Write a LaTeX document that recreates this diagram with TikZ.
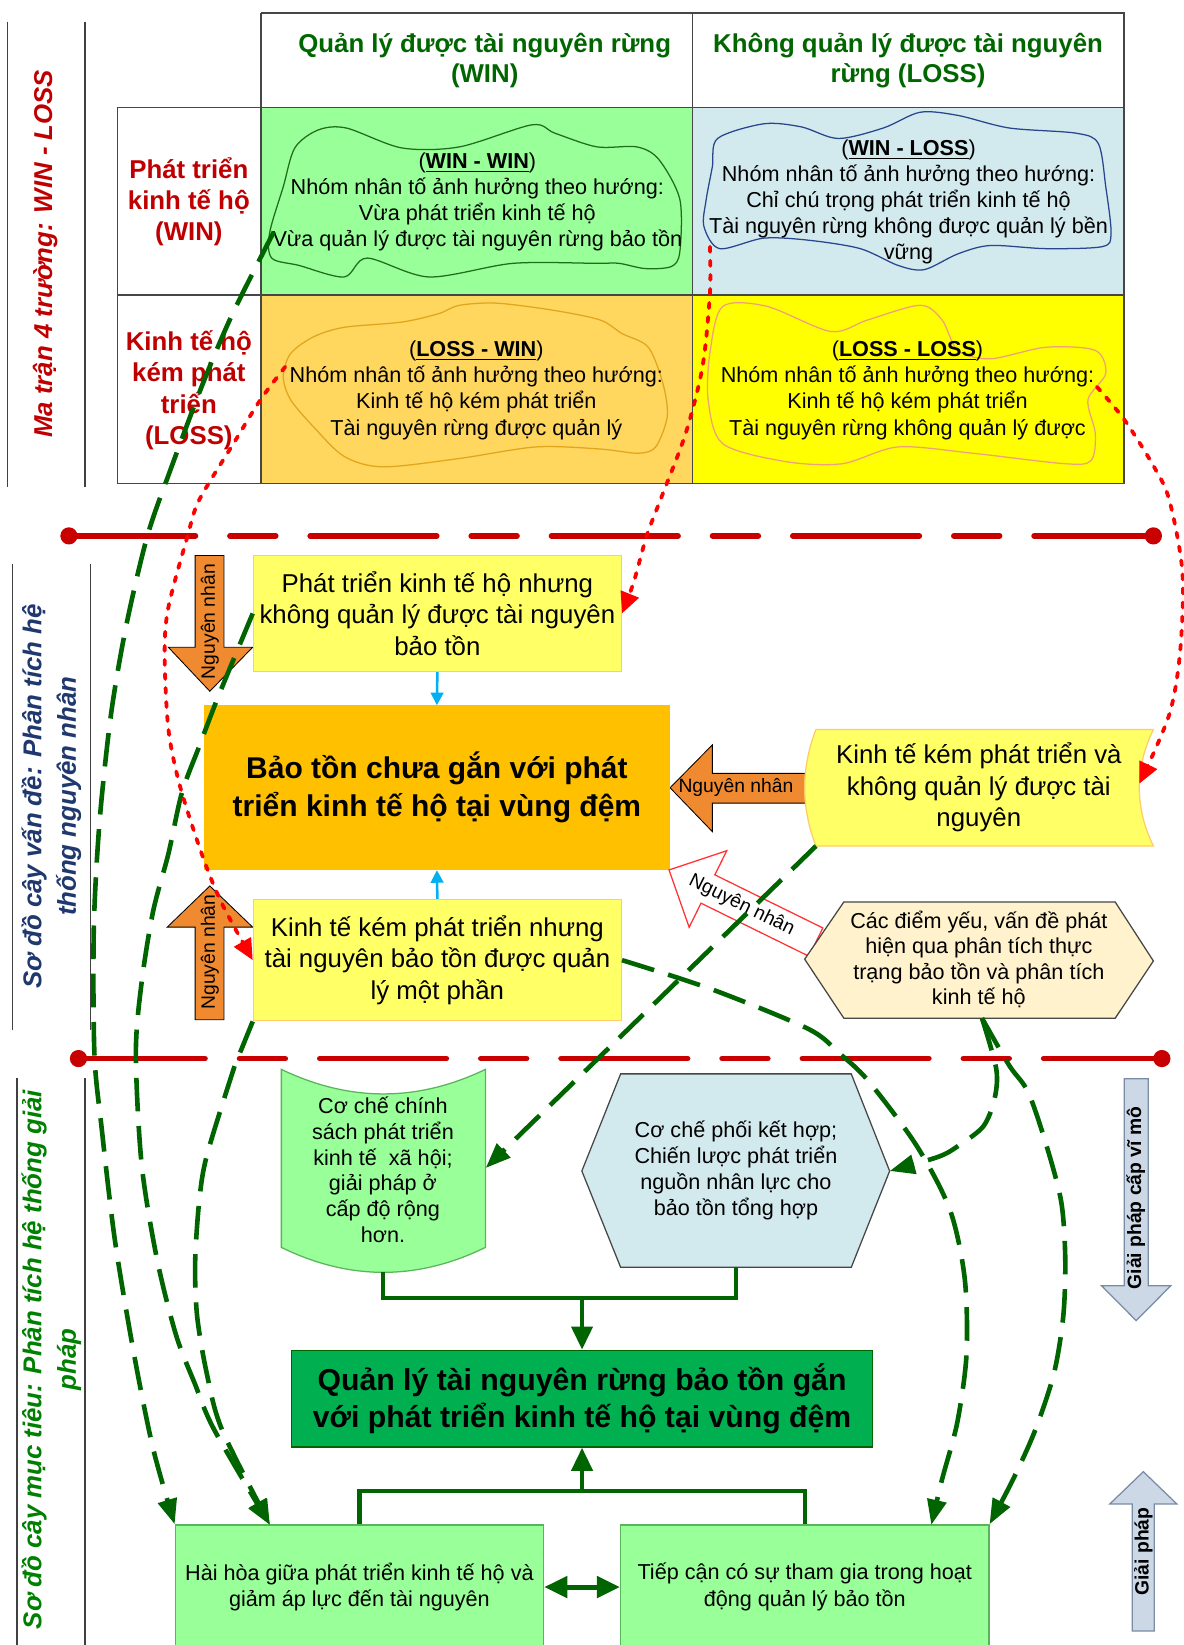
\documentclass[tikz,border=0pt]{standalone}
\usepackage{fontspec}
\setmainfont{Liberation Sans}
\usetikzlibrary{arrows.meta,calc}
\definecolor{dkred}{RGB}{192,0,0}
\definecolor{hdrgreen}{RGB}{0,102,0}
\definecolor{navy}{RGB}{31,56,110}
\definecolor{ttlgreen}{RGB}{0,128,0}
\definecolor{cellgreen}{RGB}{153,255,153}
\definecolor{cellblue}{RGB}{210,233,238}
\definecolor{cellorange}{RGB}{255,214,94}
\definecolor{cellyellow}{RGB}{255,255,0}
\definecolor{ltyellow}{RGB}{255,255,102}
\definecolor{ybord}{RGB}{255,204,102}
\definecolor{mainorange}{RGB}{255,192,0}
\definecolor{arrorange}{RGB}{240,138,48}
\definecolor{skyblue}{RGB}{0,176,240}
\definecolor{cream}{RGB}{255,242,204}
\definecolor{maingreen}{RGB}{0,176,80}
\definecolor{dkgreen}{RGB}{0,100,0}
\definecolor{steel}{RGB}{205,216,230}
\definecolor{steelbd}{RGB}{120,140,165}
\definecolor{blobgreen}{RGB}{30,110,30}
\definecolor{blobblue}{RGB}{40,70,140}
\definecolor{bloborange}{RGB}{225,165,30}
\definecolor{blobsalmon}{RGB}{240,160,120}
\definecolor{gridgray}{RGB}{70,70,70}
\definecolor{redline}{RGB}{200,0,0}
\definecolor{boxgreenbd}{RGB}{90,180,90}
\begin{document}
\begin{tikzpicture}[x=0.5pt,y=-0.5pt,
  hdr/.style={font=\fontsize{12.3}{14.5}\selectfont\bfseries, text=hdrgreen, align=center},
  rowlab/.style={font=\fontsize{12.3}{14.8}\selectfont\bfseries, text=dkred, align=center},
  celltxt/.style={font=\fontsize{10.3}{12.5}\selectfont, align=center},
  smalltxt/.style={font=\fontsize{10.3}{12.3}\selectfont, align=center},
  ttl/.style={font=\fontsize{12.3}{16.5}\selectfont\bfseries\itshape, align=center, rotate=90},
  gridln/.style={draw=gridgray, line width=0.8pt},
  sideln/.style={draw=black!75, line width=0.7pt},
  blob/.style={line width=0.6pt},
  ybox/.style={fill=ltyellow, draw=ybord, line width=0.6pt, inner sep=0pt, align=center, font=\fontsize{12.3}{15}\selectfont},
  mainbox/.style={fill=mainorange, draw=mainorange, inner sep=0pt, align=center, font=\fontsize{14.3}{18}\selectfont\bfseries},
  gmainbox/.style={fill=maingreen, draw=dkgreen, line width=0.6pt, inner sep=0pt, align=center, font=\fontsize{14.4}{18}\selectfont\bfseries},
  lgbox/.style={fill=cellgreen, draw=boxgreenbd, line width=0.6pt, inner sep=0pt, align=center, font=\fontsize{10.3}{12.7}\selectfont},
  orarrow/.style={fill=arrorange},
  nntxt/.style={font=\fontsize{9.2}{11}\selectfont, inner sep=0pt},
  steelarrow/.style={fill=steel, draw=steelbd, line width=0.6pt},
  steeltxt/.style={font=\fontsize{9.2}{11}\selectfont\bfseries, inner sep=0pt},
  sepline/.style={draw=redline, line width=2.7pt, line cap=round, dash pattern=on 60.3pt off 16.45pt on 21.8pt off 16.45pt},
  sepdot/.style={circle, fill=redline, inner sep=0pt, minimum size=8.2pt},
  bluearr/.style={draw=skyblue, line width=1.2pt, -{Triangle[length=6pt,width=6pt]}},
  gdash/.style={draw=dkgreen, line width=2.2pt, dash pattern=on 16pt off 7pt, -{Triangle[length=12pt,width=9pt]}},
  rdot/.style={draw=red, line width=1.8pt, line cap=round, dash pattern=on 2.4pt off 4.3pt, -{Triangle[length=10pt,width=9pt]}},
  gsolid/.style={draw=dkgreen, line width=2pt},
  garrow/.style={draw=dkgreen, line width=2pt, -{Triangle[length=11pt,width=10pt]}},
  gdouble/.style={draw=dkgreen, line width=2.4pt, {Triangle[length=11pt,width=10pt]}-{Triangle[length=11pt,width=10pt]}}
]
\useasboundingbox (0,0) rectangle (1128,1568);
\fill[white] (0,0) rectangle (1128,1568);

% ===== matrix =====
\fill[cellgreen] (249,102.4) rectangle (660,281.3);
\fill[cellblue] (660,102.4) rectangle (1071.3,281.3);
\fill[cellorange] (249,281.3) rectangle (660,460.8);
\fill[cellyellow] (660,281.3) rectangle (1071.3,460.8);
\draw[gridln] (249,12.7) -- (1071.3,12.7) -- (1071.3,460.8) -- (112,460.8) -- (112,102.4) -- (1071.3,102.4);
\draw[gridln] (112,281.3) -- (1071.3,281.3);
\draw[gridln] (249,12.7) -- (249,460.8);
\draw[gridln] (660,12.7) -- (660,460.8);

\draw[blob, draw=blobgreen] plot[smooth cycle] coordinates {(281,141) (303,124) (330,122) (383,141) (438,140) (507,119) (529,127) (569,140) (607,140) (628,152) (648,190) (648,240) (640,254) (615,256) (590,251) (569,251) (489,251) (409,264) (350,246) (328,264) (285,253) (259,246) (257,222) (270,178)};
\draw[blob, draw=blobblue] plot[smooth cycle] coordinates {(684,132) (728,118) (764,121) (799,132) (842,122) (877,107) (913,110) (962,122) (1026,127) (1047,137) (1054,178) (1059,222) (1051,235) (997,237) (944,234) (913,242) (881,257) (856,253) (820,237) (771,229) (728,227) (686,237) (671,216) (673,191) (679,159)};
\draw[blob, draw=bloborange] plot[smooth cycle] coordinates {(418,299) (438,291) (474,289) (529,296) (572,305) (593,318) (618,331) (632,366) (636,397) (625,426) (608,432) (572,428) (511,426) (438,437) (365,445) (328,435) (299,407) (277,381) (270,359) (277,337) (299,321) (328,312) (383,307)};
\draw[blob, draw=blobsalmon] plot[smooth cycle] coordinates {(689,292) (731,292) (792,316) (827,305) (877,291) (898,305) (913,334) (944,342) (997,331) (1044,334) (1054,356) (1037,381) (1044,413) (1040,439) (1015,442) (927,432) (856,426) (803,442) (749,440) (689,423) (675,381) (677,334)};

\node[hdr] (hdrW) at (462,57.5) {Quản lý được tài nguyên rừng\\(WIN)};
\node[hdr] (hdrL) at (865.5,57.5) {Không quản lý được tài nguyên\\rừng (LOSS)};
\node[rowlab] (rowW) at (180,192.5) {Phát triển\\kinh tế hộ\\(WIN)};
\node[rowlab] (rowL) at (180,372) {Kinh tế hộ\\kém phát\\triển\\(LOSS)};
\node[celltxt] (ww) at (455,192.5) {({\bfseries\underline{WIN - WIN}})\\Nhóm nhân tố ảnh hưởng theo hướng:\\Vừa phát triển kinh tế hộ\\Vừa quản lý được tài nguyên rừng bảo tồn};
\node[celltxt] (wl) at (866,192.5) {({\bfseries\underline{WIN - LOSS}})\\Nhóm nhân tố ảnh hưởng theo hướng:\\Chỉ chú trọng phát triển kinh tế hộ\\Tài nguyên rừng không được quản lý bền\\vững};
\node[celltxt] (lw) at (454,372) {({\bfseries\underline{LOSS - WIN}})\\Nhóm nhân tố ảnh hưởng theo hướng:\\Kinh tế hộ kém phát triển\\Tài nguyên rừng được quản lý};
\node[celltxt] (ll) at (865,372) {({\bfseries\underline{LOSS - LOSS}})\\Nhóm nhân tố ảnh hưởng theo hướng:\\Kinh tế hộ kém phát triển\\Tài nguyên rừng không quản lý được};

% ===== side titles and lines =====
\draw[sideln] (7.3,20.7) -- (7.3,464);
\draw[sideln] (81,20.7) -- (81,464);
\draw[sideln] (12,538) -- (12,982);
\draw[sideln] (86.5,538) -- (86.5,982);
\draw[sideln] (16.4,1028) -- (16.4,1570);
\draw[sideln] (81,1028) -- (81,1570);
\node[ttl, text=dkred] (t1) at (43,242) {Ma trận 4 trường: WIN - LOSS};
\node[ttl, text=navy] (t2) at (49,759) {Sơ đồ cây vấn đề: Phân tích hệ\\thống nguyên nhân};
\node[ttl, text=ttlgreen] (t3) at (49,1296) {Sơ đồ cây mục tiêu: Phân tích hệ thống giải\\pháp};

% ===== separators =====
\node[sepdot] (d1) at (65.7,510.8) {};
\node[sepdot] (d2) at (1099.4,510.8) {};
\draw[sepline] (d1.center) -- (d2.center);
\node[sepdot] (d3) at (74.8,1009) {};
\node[sepdot] (d4) at (1107.5,1009) {};
\draw[sepline] (d3.center) -- (d4.center);

% ===== problem tree =====
\filldraw[orarrow] (186,529.5) -- (213.5,529.5) -- (213.5,617) -- (240.8,617) -- (200,658.9) -- (160.5,617) -- (186,617) -- cycle;
\node[nntxt, rotate=90] (nn1) at (200,592.5) {Nguyên nhân};
\filldraw[orarrow] (200,844.5) -- (240.8,883.7) -- (213.5,883.7) -- (213.5,972) -- (186,972) -- (186,883.7) -- (159.4,883.7) -- cycle;
\node[nntxt, rotate=90] (nn2) at (200,907.5) {Nguyên nhân};
\filldraw[orarrow] (638.7,750.9) -- (679,710) -- (679,737.2) -- (772,737.2) -- (772,765.5) -- (679,765.5) -- (679,792.7) -- cycle;
\node[nntxt] (nn4) at (701.5,751) {Nguyên nhân};

\node[ybox, minimum width=175.4pt, minimum height=55.25pt] (y1) at (416.9,584.75) {Phát triển kinh tế hộ nhưng\\không quản lý được tài nguyên\\bảo tồn};
\node[mainbox, minimum width=221.25pt, minimum height=78.2pt] (main) at (416.45,750.8) {Bảo tồn chưa gắn với phát\\triển kinh tế hộ tại vùng đệm};
\node[ybox, minimum width=175.4pt, minimum height=57.8pt] (y2) at (416.9,915.2) {Kinh tế kém phát triển nhưng\\tài nguyên bảo tồn được quản\\lý một phần};
\draw[bluearr] (y1.south) -- (main.north);
\draw[bluearr] (y2.north) -- (main.south);

\filldraw[fill=ltyellow, draw=ybord, line width=0.6pt] (777.8,695.3) -- (1099.4,695.3) .. controls (1081.5,732) and (1081.5,770) .. (1099.4,806.4) -- (777.8,806.4) .. controls (763.4,770) and (763.4,732) .. (777.8,695.3) -- cycle;
\node[font=\fontsize{12.3}{15}\selectfont, align=center] (tape) at (933,750.5) {Kinh tế kém phát triển và\\không quản lý được tài\\nguyên};
\coordinate (tapeBL) at (777.8,806.4);
\coordinate (tapeR) at (1086,747);

\filldraw[fill=white, draw=red!80, line width=0.6pt] (637.7,829.2) -- (692.7,810.9) -- (681.4,833.9) -- (784.3,884.5) -- (771.1,911.5) -- (668.2,860.9) -- (656.9,883.9) -- cycle;
\node[nntxt, rotate=-26.2] (nn3) at (707,863) {Nguyên nhân};

\filldraw[fill=cream, draw=gridgray, line width=0.6pt] (767,914.3) -- (804.3,859.8) -- (1063,859.8) -- (1099.4,916) -- (1063,970.5) -- (804.3,970.5) -- cycle;
\node[smalltxt, font=\fontsize{10.3}{12.2}\selectfont] (hexA) at (933,914.4) {Các điểm yếu, vấn đề phát\\hiện qua phân tích thực\\trạng bảo tồn và phân tích\\kinh tế hộ};
\coordinate (hexAB) at (936,970.5);

% ===== objective tree =====
\filldraw[fill=cellgreen, draw=boxgreenbd, line width=0.6pt] (268.2,1019.3) .. controls (333,1050.5) and (398,1050.5) .. (462.7,1019.3) -- (462.7,1189) .. controls (398,1220.7) and (333,1220.7) .. (268.2,1189) -- cycle;
\node[smalltxt] (doc) at (365,1115.1) {Cơ chế chính\\sách phát triển\\kinh tế\ \ xã hội;\\giải pháp ở\\cấp độ rộng\\hơn.};
\coordinate (docB) at (365,1212);
\coordinate (docR) at (463,1113.3);

\filldraw[fill=cellblue, draw=gridgray, line width=0.6pt] (554.6,1116.2) -- (591.6,1023.6) -- (811.4,1023.6) -- (848,1116.2) -- (811.4,1208) -- (591.6,1208) -- cycle;
\node[smalltxt] (hexB) at (701.5,1115.7) {Cơ chế phối kết hợp;\\Chiến lược phát triển\\nguồn nhân lực cho\\bảo tồn tổng hợp};
\coordinate (hexBB) at (701.5,1208);
\coordinate (hexBR) at (848,1116.2);

\node[gmainbox, minimum width=276.8pt, minimum height=46.15pt] (gmain) at (554.8,1333.2) {Quản lý tài nguyên rừng bảo tồn gắn\\với phát triển kinh tế hộ tại vùng đệm};
\node[lgbox, minimum width=175.5pt, minimum height=59.25pt] (hh) at (342.6,1512.75) {Hài hòa giữa phát triển kinh tế hộ và\\giảm áp lực đến tài nguyên};
\node[lgbox, minimum width=175.5pt, minimum height=59.25pt] (tc) at (767.1,1512.75) {Tiếp cận có sự tham gia trong hoạt\\động quản lý bảo tồn};

\coordinate (jt) at (554.8,1237);
\coordinate (jb) at (554.8,1421.5);
\draw[gsolid] (docB) |- (jt);
\draw[gsolid] (hexBB) |- (jt);
\draw[garrow] (jt) -- (gmain.north);
\draw[gsolid] (hh.north) |- (jb);
\draw[gsolid] (tc.north) |- (jb);
\draw[garrow] (jb) -- (gmain.south);
\draw[gdouble] (hh.east) -- (tc.west);

\filldraw[steelarrow] (1071.5,1028.3) -- (1094.5,1028.3) -- (1094.5,1225.5) -- (1116,1225.5) -- (1083,1258.8) -- (1050,1225.5) -- (1071.5,1225.5) -- cycle;
\node[steeltxt, rotate=90] (gp1) at (1082.5,1142) {Giải pháp cấp vĩ mô};
\filldraw[steelarrow] (1089.8,1402.8) -- (1121.7,1433.5) -- (1100.3,1433.5) -- (1100.3,1554.7) -- (1079.2,1554.7) -- (1079.2,1433.5) -- (1057.9,1433.5) -- cycle;
\node[steeltxt, rotate=90] (gp2) at (1089.8,1479) {Giải pháp};

% ===== green dashed connectors =====
\coordinate (aS) at (261,221);
\coordinate (hhin) at (257.3,1453.5);
\coordinate (tcin) at (887.7,1453.5);
\draw[gdash] plot[smooth] coordinates {(aS) (221.8,298.8) (193.4,365.5) (162.4,448) (140.5,510.8) (120.4,596) (105.8,681) (94.9,783.2) (89.4,885.4) (90,1004.6) (96.7,1073.5) (109.5,1182) (127.7,1290.6) (146,1381) (hh.north west)};
\draw[gdash] plot[smooth] coordinates {(y1.west) (208,664) (189.8,711.7) (173.3,756) (160.5,813.9) (146,868.4) (135,936.4) (129.5,1004) (135,1109.7) (149.6,1200) (167.8,1272.5) (186,1319.6) (204.3,1363) (hhin)};
\draw[gdash] plot[smooth] coordinates {(y2.south west) (229.8,1001) (222.6,1019.3) (197,1102) (189.8,1145.9) (186,1203.8) (187.9,1254.5) (197,1308.7) (211.7,1363) (hhin)};
\draw[gdash] (tapeBL) -- (docR);
\draw[gdash] plot[smooth] coordinates {(y2.east) (678.5,943) (770.4,980.7) (800,1004) (827.4,1030) (873.4,1091.6) (905.4,1153) (919.5,1218.2) (921.3,1290.6) (912.5,1355.7) (898,1410) (tcin)};
\draw[gdash] plot[smooth] coordinates {(hexAB) (949.7,1019.3) (947.8,1048.2) (937.3,1073.6) (914.3,1091.6) (894.8,1102.5) (hexBR)};
\draw[gdash] plot[smooth] coordinates {(hexAB) (962,1015.6) (980,1041) (997.4,1091.6) (1011.6,1145.9) (1015.4,1200) (1013.5,1254.5) (1004.7,1308.7) (986.8,1363) (965.7,1410) (tc.north east)};

% ===== red dotted connectors =====
\coordinate (r1S) at (271.9,349.6);
\coordinate (r2S) at (676.7,235.2);
\coordinate (r3S) at (1045.5,368.7);
\draw[rdot] plot[smooth] coordinates {(r1S) (248,381.4) (222.6,422.7) (189.8,476.7) (178.8,510.8) (160.5,578.8) (156.9,623.2) (160.5,694.7) (171.5,749.1) (193.4,817) (211.7,861.6) (y2.west)};
\draw[rdot] plot[smooth] coordinates {(r2S) (676.7,279.7) (669.6,349.6) (653.6,413) (630.6,473.6) (616.4,510.8) (604,555) (y1.east)};
\draw[rdot] plot[smooth] coordinates {(r3S) (1072,400.5) (1100,445) (1114.6,476.7) (1127,544.8) (1125,619.8) (1114.6,680.9) (tapeR)};
\end{tikzpicture}
\end{document}
